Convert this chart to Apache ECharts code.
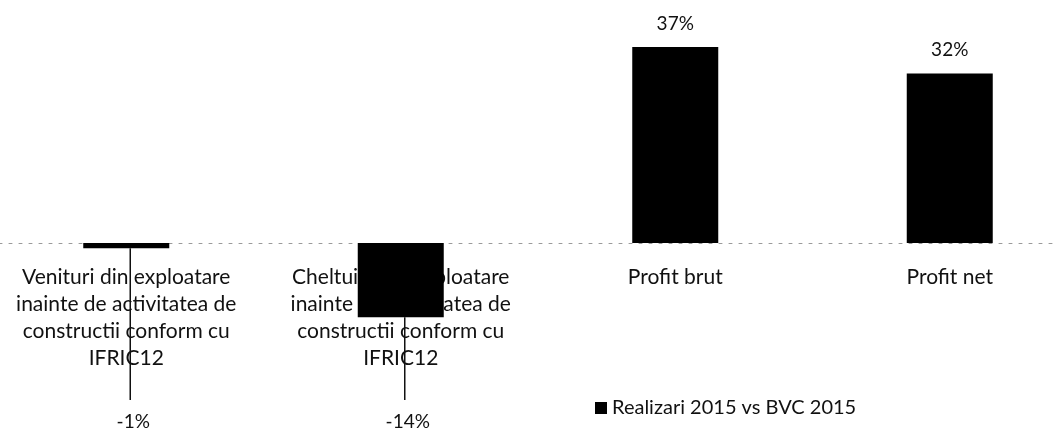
<!DOCTYPE html>
<html>
<head>
<meta charset="utf-8">
<script src="https://cdn.jsdelivr.net/npm/echarts@6/dist/echarts.min.js"></script>
<style>
  html, body { margin: 0; padding: 0; background: #fff; }
  #chart { width: 1058px; height: 432px; }
</style>
</head>
<body>
<div id="chart"></div>
<script>
// Realizari 2015 vs BVC 2015 (%)
const categories = [
  'Venituri din exploatare\ninainte de activitatea de\nconstructii conform cu\nIFRIC12',
  'Cheltuieli de exploatare\ninainte de activitatea de\nconstructii conform cu\nIFRIC12',
  'Profit brut',
  'Profit net'
];
const seriesName = 'Realizari 2015 vs BVC 2015';
const values = [-1, -14, 37, 32];

const FONT = 'Lato, "Open Sans", sans-serif';
const chart = echarts.init(document.getElementById('chart'), null, { renderer: 'canvas' });

// positive bars carry their label on top; negative ones get a leader line
const barData = values.map(v => ({
  value: v,
  label: { show: v >= 0 }
}));
const negData = values.map((v, i) => [i, v]).filter(d => d[1] < 0);

chart.setOption({
  animation: false,
  backgroundColor: '#ffffff',
  // the grid ends at the zero line; negative bars hang below it unclipped
  grid: { left: -11, right: -29, top: 31, bottom: 189, containLabel: false, outerBoundsMode: 'none' },
  legend: {
    data: [seriesName],
    left: 590, top: 393,
    icon: 'rect', itemWidth: 12, itemHeight: 12, itemGap: 6,
    textStyle: { fontFamily: FONT, fontSize: 20, color: '#111' }
  },
  xAxis: {
    type: 'category',
    data: categories,
    axisLine: { show: true, lineStyle: { color: '#9a9a9a', width: 1, type: [3, 7] } },
    axisTick: { show: false },
    axisLabel: {
      interval: 0, margin: 21,
      fontFamily: FONT, fontSize: 21, color: '#111', lineHeight: 27
    }
  },
  yAxis: {
    type: 'value', min: 0, max: 40, interval: 10,
    show: false, splitLine: { show: false }
  },
  series: [
    {
      name: seriesName,
      type: 'bar',
      data: barData,
      barWidth: 86,
      clip: false,
      itemStyle: { color: '#000' },
      z: 5,
      label: {
        position: 'top', distance: 14,
        formatter: p => p.value + '%',
        fontFamily: FONT, fontSize: 19, color: '#111'
      }
    },
    {
      name: 'leader',
      type: 'custom',
      data: negData,
      clip: false,
      z: 6,
      renderItem: (params, api) => {
        const end = api.coord([api.value(0), api.value(1)]);
        const x = end[0] + 4;
        return {
          type: 'group',
          children: [
            { type: 'line', shape: { x1: x, y1: end[1], x2: x, y2: 400 },
              style: { stroke: '#111', lineWidth: 1.5 } },
            { type: 'text', x: x + 3, y: 422,
              style: { text: api.value(1) + '%', fontFamily: FONT, fontSize: 19,
                       fill: '#111', align: 'center', verticalAlign: 'middle' } }
          ]
        };
      }
    }
  ]
});
</script>
</body>
</html>
